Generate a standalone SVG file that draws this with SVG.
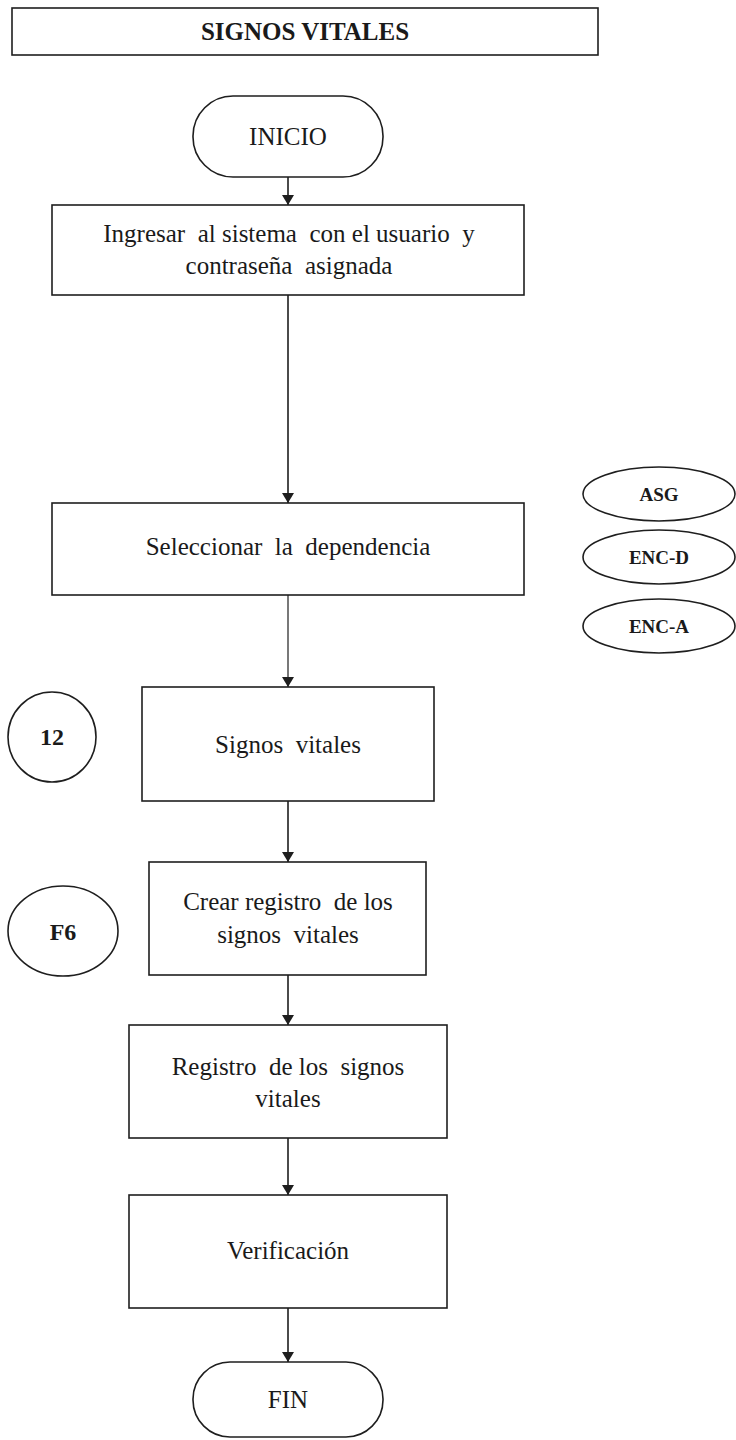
<svg xmlns="http://www.w3.org/2000/svg" width="736" height="1440" viewBox="0 0 736 1440">
  <style>
    .shape { fill: #ffffff; stroke: #1e1e1e; stroke-width: 1.6; }
    .txt { font-family: "Liberation Serif", "Times New Roman", serif; font-size: 25px; fill: #1a1a1a; text-anchor: middle; }
    .bold { font-weight: bold; }
    .tag { font-family: "Liberation Serif", "Times New Roman", serif; font-size: 19px; font-weight: bold; fill: #1a1a1a; text-anchor: middle; }
    .flow { fill: none; stroke: #1e1e1e; stroke-width: 1.6; }
  </style>
  <defs>
    <marker id="arrow" viewBox="0 0 10 12" refX="10" refY="6" markerWidth="10" markerHeight="12" markerUnits="userSpaceOnUse" orient="auto">
      <path d="M0,0 L10,6 L0,12 Z" fill="#1e1e1e"/>
    </marker>
  </defs>
  <rect width="736" height="1440" fill="#ffffff"/>

  <!-- Title bar -->
  <g id="title">
    <rect class="shape" x="12" y="8" width="586" height="47"/>
    <text class="txt bold" x="305" y="40">SIGNOS VITALES</text>
  </g>

  <!-- Main flow -->
  <g id="inicio">
    <rect class="shape" x="193" y="96" width="190" height="81" rx="40" ry="40"/>
    <text class="txt" x="288" y="145">INICIO</text>
  </g>

  <g id="ingresar">
    <rect class="shape" x="52" y="205" width="472" height="90"/>
    <text class="txt" x="289" y="242" xml:space="preserve">Ingresar  al sistema  con el usuario  y</text>
    <text class="txt" x="289" y="274" xml:space="preserve">contraseña  asignada</text>
  </g>

  <g id="seleccionar">
    <rect class="shape" x="52" y="503" width="472" height="92"/>
    <text class="txt" x="288" y="555" xml:space="preserve">Seleccionar  la  dependencia</text>
  </g>

  <g id="signos">
    <rect class="shape" x="142" y="687" width="292" height="114"/>
    <text class="txt" x="288" y="753" xml:space="preserve">Signos  vitales</text>
  </g>

  <g id="crear">
    <rect class="shape" x="149" y="862" width="277" height="113"/>
    <text class="txt" x="288" y="910" xml:space="preserve">Crear registro  de los</text>
    <text class="txt" x="288" y="943" xml:space="preserve">signos  vitales</text>
  </g>

  <g id="registro">
    <rect class="shape" x="129" y="1025" width="318" height="113"/>
    <text class="txt" x="288" y="1075" xml:space="preserve">Registro  de los  signos</text>
    <text class="txt" x="288" y="1107">vitales</text>
  </g>

  <g id="verificacion">
    <rect class="shape" x="129" y="1195" width="318" height="113"/>
    <text class="txt" x="288" y="1259">Verificación</text>
  </g>

  <g id="fin">
    <rect class="shape" x="193" y="1362" width="190" height="75" rx="37" ry="37"/>
    <text class="txt" x="288" y="1408">FIN</text>
  </g>

  <!-- Side references -->
  <g id="ref-12">
    <ellipse class="shape" cx="52" cy="737" rx="44" ry="45"/>
    <text class="txt bold" x="52" y="745" style="font-size:24px">12</text>
  </g>

  <g id="ref-f6">
    <ellipse class="shape" cx="63" cy="931" rx="55" ry="45"/>
    <text class="txt bold" x="63" y="940" style="font-size:24px">F6</text>
  </g>

  <g id="ref-asg">
    <ellipse class="shape" cx="659" cy="494" rx="76" ry="27"/>
    <text class="tag" x="659" y="501">ASG</text>
  </g>

  <g id="ref-encd">
    <ellipse class="shape" cx="659" cy="557" rx="76" ry="27"/>
    <text class="tag" x="659" y="564">ENC-D</text>
  </g>

  <g id="ref-enca">
    <ellipse class="shape" cx="659" cy="626" rx="76" ry="27"/>
    <text class="tag" x="659" y="633">ENC-A</text>
  </g>

  <!-- Connectors -->
  <g id="connectors">
    <line class="flow" x1="288" y1="177" x2="288" y2="205" marker-end="url(#arrow)"/>
    <line class="flow" x1="288" y1="295" x2="288" y2="503" marker-end="url(#arrow)"/>
    <line class="flow" x1="288" y1="595" x2="288" y2="687" marker-end="url(#arrow)" style="stroke-width:1.2"/>
    <line class="flow" x1="288" y1="801" x2="288" y2="862" marker-end="url(#arrow)"/>
    <line class="flow" x1="288" y1="975" x2="288" y2="1025" marker-end="url(#arrow)"/>
    <line class="flow" x1="288" y1="1138" x2="288" y2="1195" marker-end="url(#arrow)"/>
    <line class="flow" x1="288" y1="1308" x2="288" y2="1362" marker-end="url(#arrow)"/>
  </g>
</svg>
